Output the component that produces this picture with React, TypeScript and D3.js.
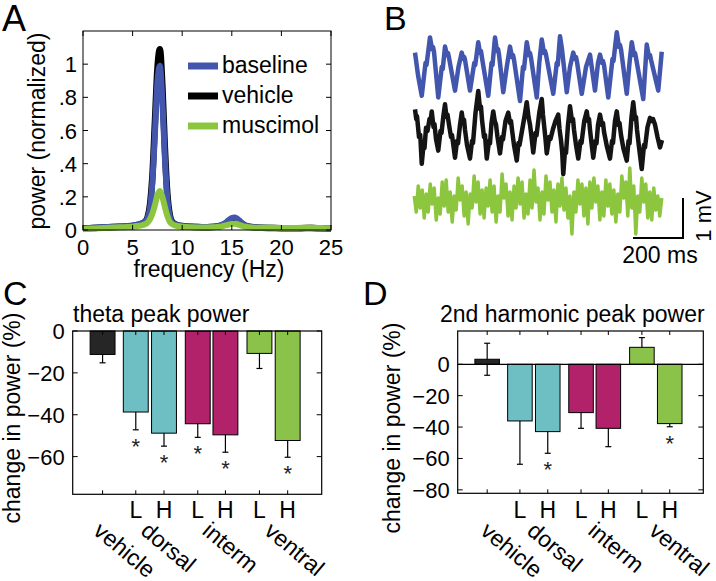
import React from 'react';
import * as d3 from 'd3';

const FONT = '"Liberation Sans", Arial, Helvetica, sans-serif';
const W = 716;
const H = 581;

// ---------------- Panel A: power spectra ----------------
const freqHz = [0, 0.5, 1, 1.5, 2, 2.5, 3, 3.5, 4, 4.5, 5, 5.5, 6, 6.25, 6.5, 6.75, 7, 7.25, 7.5, 7.75, 8, 8.25, 8.5, 8.75, 9, 9.25, 9.5, 10, 10.5, 11, 11.5, 12, 12.5, 13, 13.5, 14, 14.25, 14.5, 14.75, 15, 15.25, 15.5, 15.75, 16, 16.25, 16.5, 17, 17.5, 18, 19, 20, 21, 22, 23, 24, 25];
const baselinePower = [0.010, 0.012, 0.014, 0.015, 0.017, 0.018, 0.020, 0.021, 0.022, 0.024, 0.027, 0.032, 0.042, 0.050, 0.070, 0.130, 0.290, 0.580, 0.890, 0.990, 0.780, 0.440, 0.190, 0.080, 0.045, 0.035, 0.030, 0.025, 0.022, 0.020, 0.019, 0.018, 0.018, 0.019, 0.022, 0.030, 0.038, 0.050, 0.063, 0.072, 0.075, 0.070, 0.058, 0.044, 0.032, 0.025, 0.019, 0.016, 0.014, 0.013, 0.012, 0.012, 0.012, 0.013, 0.011, 0.010];
const vehiclePower = [0.008, 0.010, 0.012, 0.013, 0.015, 0.016, 0.018, 0.019, 0.020, 0.022, 0.025, 0.030, 0.040, 0.050, 0.075, 0.150, 0.330, 0.650, 0.970, 1.090, 0.870, 0.500, 0.220, 0.090, 0.048, 0.036, 0.030, 0.024, 0.021, 0.019, 0.018, 0.017, 0.017, 0.018, 0.021, 0.028, 0.035, 0.045, 0.056, 0.064, 0.066, 0.062, 0.052, 0.040, 0.030, 0.023, 0.018, 0.015, 0.013, 0.012, 0.011, 0.011, 0.011, 0.012, 0.010, 0.009];
const muscimolPower = [0.005, 0.007, 0.009, 0.010, 0.012, 0.013, 0.015, 0.016, 0.017, 0.018, 0.020, 0.024, 0.030, 0.035, 0.045, 0.065, 0.100, 0.150, 0.210, 0.235, 0.200, 0.140, 0.085, 0.050, 0.035, 0.028, 0.024, 0.020, 0.018, 0.016, 0.015, 0.015, 0.015, 0.016, 0.018, 0.022, 0.026, 0.030, 0.034, 0.037, 0.038, 0.036, 0.031, 0.026, 0.021, 0.018, 0.015, 0.014, 0.013, 0.013, 0.012, 0.012, 0.013, 0.014, 0.012, 0.010];
const freqTicks = [0, 5, 10, 15, 20, 25];
const powerTicks = [0, 0.2, 0.4, 0.6, 0.8, 1];
const powerTickLabels = ['0', '.2', '.4', '.6', '.8', '1'];
const spectrumLegend = ['baseline', 'vehicle', 'muscimol'];

const BLUE = '#4356ad';
const BLACK = '#000000';
const GREEN = '#8cc63f';

// ---------------- Panel B: example traces (time ms, mV) ----------------
const blueTrace: [number, number][] = [
  [8, 0.36], [20, -0.2], [35, -0.72], [50, 0.1], [54, 0.05], [68, 0.74], [76, 0.45], [80, 0.5], [84, 0.38], [101, -0.76],
  [115, 0.0], [119, -0.05], [128, 0.51], [136, 0.3], [140, 0.35], [144, 0.23], [168, -0.59], [182, 0.0], [195, 0.36], [202, 0.2],
  [205, 0.25], [208, 0.18], [228, -0.59], [245, 0.1], [249, 0.05], [261, 0.62], [268, 0.35], [272, 0.4], [276, 0.23], [301, -0.72],
  [314, 0.1], [318, 0.05], [328, 0.74], [336, 0.4], [340, 0.45], [344, 0.31], [361, -0.63], [375, 0.0], [388, 0.51], [396, 0.25],
  [400, 0.3], [404, 0.18], [428, -0.85], [440, 0.0], [444, -0.05], [455, 0.62], [464, 0.3], [468, 0.35], [472, 0.23], [495, -0.76],
  [505, 0.1], [515, 0.69], [524, 0.35], [528, 0.4], [532, 0.31], [561, -0.67], [575, 0.1], [579, 0.05], [588, 0.77], [596, 0.44],
  [615, -0.63], [628, 0.0], [641, 0.36], [648, 0.2], [652, 0.25], [656, 0.13], [675, -0.67], [692, 0.0], [708, 0.31], [728, -0.59],
  [740, 0.1], [748, 0.31], [756, 0.1], [760, 0.15], [764, 0.05], [781, -0.76], [798, 0.2], [802, 0.15], [815, 0.87], [824, 0.5],
  [828, 0.55], [832, 0.44], [855, -0.67], [866, 0.1], [875, 0.62], [884, 0.3], [888, 0.35], [892, 0.23], [921, -0.80], [935, 0.56],
  [944, 0.25], [948, 0.3], [952, 0.18], [981, -0.59], [995, 0.38]
];
const blackTrace: [number, number][] = [
  [8, 0.59], [13, 0.35], [16, 0.42], [24, -0.1], [29, -0.05], [35, -0.77], [42, -0.3], [46, -0.38], [52, 0.13], [58, 0.05],
  [66, 0.35], [70, 0.3], [75, 0.54], [82, 0.15], [86, 0.22], [92, -0.15], [101, -0.44], [110, 0.05], [114, 0.0], [122, 0.45],
  [128, 0.72], [134, 0.4], [138, 0.46], [144, 0.21], [152, -0.1], [156, -0.05], [168, -0.62], [176, -0.2], [180, -0.26], [188, 0.2],
  [195, 0.51], [200, 0.28], [204, 0.33], [208, 0.08], [216, -0.3], [228, -0.64], [236, -0.2], [240, -0.25], [250, 0.5], [261, 1.05],
  [268, 0.6], [272, 0.66], [276, 0.33], [284, -0.1], [288, -0.05], [295, -0.64], [304, -0.2], [308, -0.26], [314, 0.25], [321, 0.54],
  [327, 0.3], [332, 0.21], [338, -0.1], [348, -0.51], [356, -0.1], [360, -0.16], [370, 0.3], [381, 0.51], [388, 0.25], [392, 0.3],
  [396, 0.08], [404, -0.3], [415, -0.69], [422, -0.25], [426, -0.3], [440, 0.2], [447, 0.45], [455, 0.77], [462, 0.4], [468, 0.21],
  [474, -0.1], [481, -0.49], [490, 0.0], [494, -0.06], [505, 0.5], [515, 0.85], [520, 0.45], [524, 0.21], [530, -0.15], [535, -0.51],
  [545, -0.1], [550, -0.15], [560, 0.1], [570, 0.3], [581, 0.46], [586, 0.1], [592, -0.18], [597, -0.5], [601, -1.03], [608, -0.45],
  [612, -0.5], [620, 0.2], [628, 0.67], [636, 0.3], [640, 0.35], [644, 0.08], [652, -0.3], [661, -0.64], [670, -0.2], [674, -0.25],
  [685, 0.3], [695, 0.54], [700, 0.3], [704, 0.35], [708, 0.08], [714, -0.25], [721, -0.62], [730, -0.2], [734, -0.26], [740, 0.2],
  [748, 0.46], [756, 0.2], [760, 0.25], [764, 0.03], [776, -0.35], [788, -0.64], [796, -0.2], [800, -0.25], [808, 0.3], [815, 0.54],
  [822, 0.2], [826, 0.25], [832, -0.05], [842, -0.4], [855, -0.69], [862, -0.2], [866, -0.26], [874, 0.4], [881, 0.77], [888, 0.35],
  [892, 0.4], [896, 0.08], [905, -0.4], [915, -0.90], [924, -0.3], [928, -0.36], [938, 0.15], [948, 0.38], [955, 0.3], [960, 0.35],
  [968, 0.21], [978, -0.1], [988, -0.36], [996, -0.18]
];
const greenTraceValues = [
  0.10, -0.30, 0.35, -0.20, 0.25, -0.45, 0.15, -0.30, 0.40, -0.10, 0.30, -0.50, 0.05, -0.35, 0.45, -0.15, 0.50, -0.30, 0.20, -0.55, 0.10, -0.25, 0.55, 0.00, 0.35,
  -0.40, 0.20, -0.60, 0.15, -0.20, 0.60, -0.05, 0.45, -0.35, 0.25, -0.45, 0.30, -0.15, 0.50, -0.30, 0.35, -0.55, 0.10, -0.30, 0.65, 0.05, 0.40, -0.40, 0.20, -0.50,
  0.35, -0.20, 0.55, -0.10, 0.45, -0.45, 0.15, -0.35, 0.50, -0.20, 0.75, -0.05, 0.30, -0.50, 0.20, -0.35, 0.60, 0.00, 0.45, -0.30, 0.25, -0.55, 0.40, -0.15, 0.55,
  -0.25, 0.30, -0.45, 0.10, -0.85, 0.20, -0.30, 0.50, -0.10, 0.40, -0.40, 0.30, -0.60, 0.45, -0.20, 0.55, -0.05, 0.35, -0.50, 0.20, -0.40, 0.50, -0.15, 0.40, -0.35,
  0.25, -0.55, 0.15, -0.30, 0.60, 0.05, 0.45, -0.40, 0.80, -0.20, 0.35, -0.85, 0.10, -0.30, 0.55, -0.05, 0.40, -0.45, 0.20, -0.50, 0.30, -0.25, 0.10, -0.40, 0.05
];
const scaleBarMs = 200;
const scaleBarMv = 1;

// ---------------- Panels C, D: bar charts ----------------
const groupNames = ['vehicle', 'dorsal', 'interm', 'ventral'];
const groupColors = ['#262626', '#6dbfc3', '#b2226a', '#8bc34a'];
const barPositions = [1.08, 2.28, 3.3, 4.52, 5.52, 6.75, 7.77];
const barGroup = [0, 1, 1, 2, 2, 3, 3];
const doseLabels = ['', 'L', 'H', 'L', 'H', 'L', 'H'];

const thetaChange = [-11.2, -38.7, -48.8, -44.3, -49.6, -10.7, -52.3];
const thetaErr = [4.0, 8.5, 6.2, 6.5, 8.3, 7.2, 8.0];
const thetaSig = [false, true, true, true, true, false, true];
const thetaTicks = [0, -20, -40, -60];

const harmonicChange = [3.2, -36.1, -42.9, -30.8, -40.8, 10.8, -37.8];
const harmonicErr = [10.2, 27.6, 13.8, 10.0, 11.7, 6.2, 2.0];
const harmonicSig = [false, false, true, false, false, false, true];
const harmonicTicks = [0, -20, -40, -60, -80];

const fmt = (v: number) => (v < 0 ? '\u2212' + Math.abs(v) : String(v));

function PanelA() {
  const x = d3.scaleLinear().domain([0, 25]).range([83, 331]);
  const y = d3.scaleLinear().domain([0, 1.2]).range([230, 31]);
  const mk = (vals: number[]) =>
    d3.line<number>().x((_, i) => x(freqHz[i])).y((d) => y(d)).curve(d3.curveMonotoneX)(vals) || '';
  const [x0, x1] = x.range();
  const [y0, y1] = y.range();
  const legendColors = [BLUE, BLACK, GREEN];
  return (
    <g>
      <text x={2} y={31} fontSize={36} fontFamily={FONT}>A</text>
      <path d={mk(vehiclePower)} fill="none" stroke={BLACK} strokeWidth={6.5} />
      <path d={mk(baselinePower)} fill="none" stroke={BLUE} strokeWidth={6} />
      <path d={mk(muscimolPower)} fill="none" stroke={GREEN} strokeWidth={6} />
      <rect x={x0} y={y1} width={x1 - x0} height={y0 - y1} fill="none" stroke="#000" strokeWidth={1} />
      {freqTicks.map((t) => (
        <g key={'fx' + t}>
          <line x1={x(t)} x2={x(t)} y1={y0} y2={y0 - 5} stroke="#000" />
          <line x1={x(t)} x2={x(t)} y1={y1} y2={y1 + 5} stroke="#000" />
          <text x={x(t)} y={255} fontSize={22} textAnchor="middle" fontFamily={FONT}>{t}</text>
        </g>
      ))}
      {powerTicks.map((t, i) => (
        <g key={'py' + t}>
          <line x1={x0} x2={x0 + 5} y1={y(t)} y2={y(t)} stroke="#000" />
          <line x1={x1} x2={x1 - 5} y1={y(t)} y2={y(t)} stroke="#000" />
          <text x={77} y={y(t) + 8} fontSize={22} textAnchor="end" fontFamily={FONT}>{powerTickLabels[i]}</text>
        </g>
      ))}
      <text x={(x0 + x1) / 2 + 2} y={277} fontSize={23} textAnchor="middle" fontFamily={FONT}>frequency (Hz)</text>
      <text transform={`translate(45,131) rotate(-90)`} fontSize={23} textAnchor="middle" fontFamily={FONT}>power (normalized)</text>
      {spectrumLegend.map((s, i) => (
        <g key={s}>
          <line x1={188} x2={218} y1={66 + i * 30} y2={66 + i * 30} stroke={legendColors[i]} strokeWidth={7} />
          <text x={222} y={73 + i * 30} fontSize={23} fontFamily={FONT}>{s}</text>
        </g>
      ))}
    </g>
  );
}

function PanelB() {
  const t = d3.scaleLinear().domain([0, 1000]).range([413, 663]);
  const mv = 40; // px per mV
  const vBlue = d3.scaleLinear().domain([-1, 1]).range([67 + mv, 67 - mv]);
  const vBlack = d3.scaleLinear().domain([-1, 1]).range([133 + mv, 133 - mv]);
  const vGreen = d3.scaleLinear().domain([-1, 1]).range([200 + mv, 200 - mv]);
  const lineB = d3.line<[number, number]>().x((d) => t(d[0])).y((d) => vBlue(d[1]));
  const lineK = d3.line<[number, number]>().x((d) => t(d[0])).y((d) => vBlack(d[1]));
  const step = 990 / (greenTraceValues.length - 1);
  const lineG = d3.line<number>().x((_, i) => t(5 + i * step)).y((d) => vGreen(d));
  const sbT0 = 880;
  const sbV0 = -0.95;
  return (
    <g>
      <text x={384} y={30} fontSize={34} fontFamily={FONT}>B</text>
      <path d={lineB(blueTrace) || ''} fill="none" stroke={BLUE} strokeWidth={4.5} strokeLinejoin="round" />
      <path d={lineK(blackTrace) || ''} fill="none" stroke="#141414" strokeWidth={4.5} strokeLinejoin="round" />
      <path d={lineG(greenTraceValues) || ''} fill="none" stroke={GREEN} strokeWidth={3.5} strokeLinejoin="round" />
      <path
        d={`M${t(sbT0)},${vGreen(sbV0)}H${t(sbT0 + scaleBarMs)}V${vGreen(sbV0 + scaleBarMv)}`}
        fill="none" stroke="#000" strokeWidth={2}
      />
      <text x={(t(sbT0) + t(sbT0 + scaleBarMs)) / 2 + 2} y={263} fontSize={23} textAnchor="middle" fontFamily={FONT}>200 ms</text>
      <text transform={`translate(711,${(vGreen(sbV0) + vGreen(sbV0 + scaleBarMv)) / 2 - 2}) rotate(-90)`} fontSize={22} textAnchor="middle" fontFamily={FONT}>1 mV</text>
    </g>
  );
}

type BarProps = {
  letter: string; letterX: number;
  x0: number; x1: number; yTop: number; yBot: number; domain: [number, number];
  ticks: number[]; values: number[]; errs: number[]; sig: boolean[];
  title: string; titleX: number; ylabelX: number; ylabelY: number; groupOffset: number; zeroLine: boolean;
};

function BarPanel(p: BarProps) {
  const x = d3.scaleLinear().domain([0, 9]).range([p.x0, p.x1]);
  const y = d3.scaleLinear().domain(p.domain).range([p.yBot, p.yTop]);
  const bw = x(0.9) - x(0);
  const groupCenters = groupNames.map((_, g) => d3.mean(barPositions.filter((_, i) => barGroup[i] === g)) as number);
  return (
    <g>
      <text x={p.letterX} y={305} fontSize={34} fontFamily={FONT}>{p.letter}</text>
      <text x={p.titleX} y={322} fontSize={23} fontFamily={FONT}>{p.title}</text>
      {p.values.map((v, i) => (
        <g key={'e' + i}>
          <line x1={x(barPositions[i])} x2={x(barPositions[i])} y1={y(v - p.errs[i])} y2={y(v + p.errs[i])} stroke="#000" strokeWidth={1.2} />
          <line x1={x(barPositions[i]) - 3} x2={x(barPositions[i]) + 3} y1={y(v - p.errs[i])} y2={y(v - p.errs[i])} stroke="#000" strokeWidth={1.2} />
          <line x1={x(barPositions[i]) - 3} x2={x(barPositions[i]) + 3} y1={y(v + p.errs[i])} y2={y(v + p.errs[i])} stroke="#000" strokeWidth={1.2} />
        </g>
      ))}
      {p.values.map((v, i) => (
        <rect key={'b' + i} x={x(barPositions[i]) - bw / 2} width={bw}
          y={y(Math.max(v, 0))} height={Math.abs(y(v) - y(0))}
          fill={groupColors[barGroup[i]]} stroke="#000" strokeWidth={1} />
      ))}
      {p.values.map((v, i) => p.sig[i] ? (
        <text key={'s' + i} x={x(barPositions[i])} y={y(v - p.errs[i]) + 24} fontSize={22} textAnchor="middle" fontFamily={FONT} fill="#222">*</text>
      ) : null)}
      {p.zeroLine && <line x1={p.x0} x2={p.x1} y1={y(0)} y2={y(0)} stroke="#000" strokeWidth={1.2} />}
      <rect x={p.x0} y={p.yTop} width={p.x1 - p.x0} height={p.yBot - p.yTop} fill="none" stroke="#000" strokeWidth={1.2} />
      {p.ticks.map((t) => (
        <g key={'t' + t}>
          <line x1={p.x0} x2={p.x0 + 5} y1={y(t)} y2={y(t)} stroke="#000" />
          <line x1={p.x1} x2={p.x1 - 5} y1={y(t)} y2={y(t)} stroke="#000" />
          <text x={p.x0 - 8} y={y(t) + 8} fontSize={22} textAnchor="end" fontFamily={FONT}>{fmt(t)}</text>
        </g>
      ))}
      {barPositions.map((b, i) => (
        <g key={'xt' + i}>
          <line x1={x(b)} x2={x(b)} y1={p.yBot} y2={p.yBot - 4} stroke="#000" />
          <line x1={x(b)} x2={x(b)} y1={p.yTop} y2={p.yTop + 4} stroke="#000" />
          {doseLabels[i] && <text x={x(b)} y={518} fontSize={23} textAnchor="middle" fontFamily={FONT}>{doseLabels[i]}</text>}
        </g>
      ))}
      {groupNames.map((g, i) => (
        <text key={g} transform={`translate(${x(groupCenters[i]) + p.groupOffset},533) rotate(40)`} fontSize={23} fontFamily={FONT}>{g}</text>
      ))}
      <text transform={`translate(${p.ylabelX},${p.ylabelY}) rotate(-90)`} fontSize={23} textAnchor="middle" fontFamily={FONT}>change in power (%)</text>
    </g>
  );
}

export default function App() {
  return (
    <svg width={W} height={H} viewBox={`0 0 ${W} ${H}`} style={{ position: 'absolute', left: 0, top: 0, background: '#fff' }}>
      <rect width={W} height={H} fill="#fff" />
      <PanelA />
      <PanelB />
      <BarPanel letter="C" letterX={3} x0={72.7} x1={321.7} yTop={331} yBot={494.3} domain={[-78, 0]}
        ticks={thetaTicks} values={thetaChange} errs={thetaErr} sig={thetaSig}
        title="theta peak power" titleX={73} ylabelX={20} ylabelY={418} groupOffset={-10.5} zeroLine={false} />
      <BarPanel letter="D" letterX={363} x0={457.7} x1={703.3} yTop={331} yBot={493.3} domain={[-82.2, 21.2]}
        ticks={harmonicTicks} values={harmonicChange} errs={harmonicErr} sig={harmonicSig}
        title="2nd harmonic peak power" titleX={440} ylabelX={400} ylabelY={428} groupOffset={-8} zeroLine={true} />
    </svg>
  );
}
